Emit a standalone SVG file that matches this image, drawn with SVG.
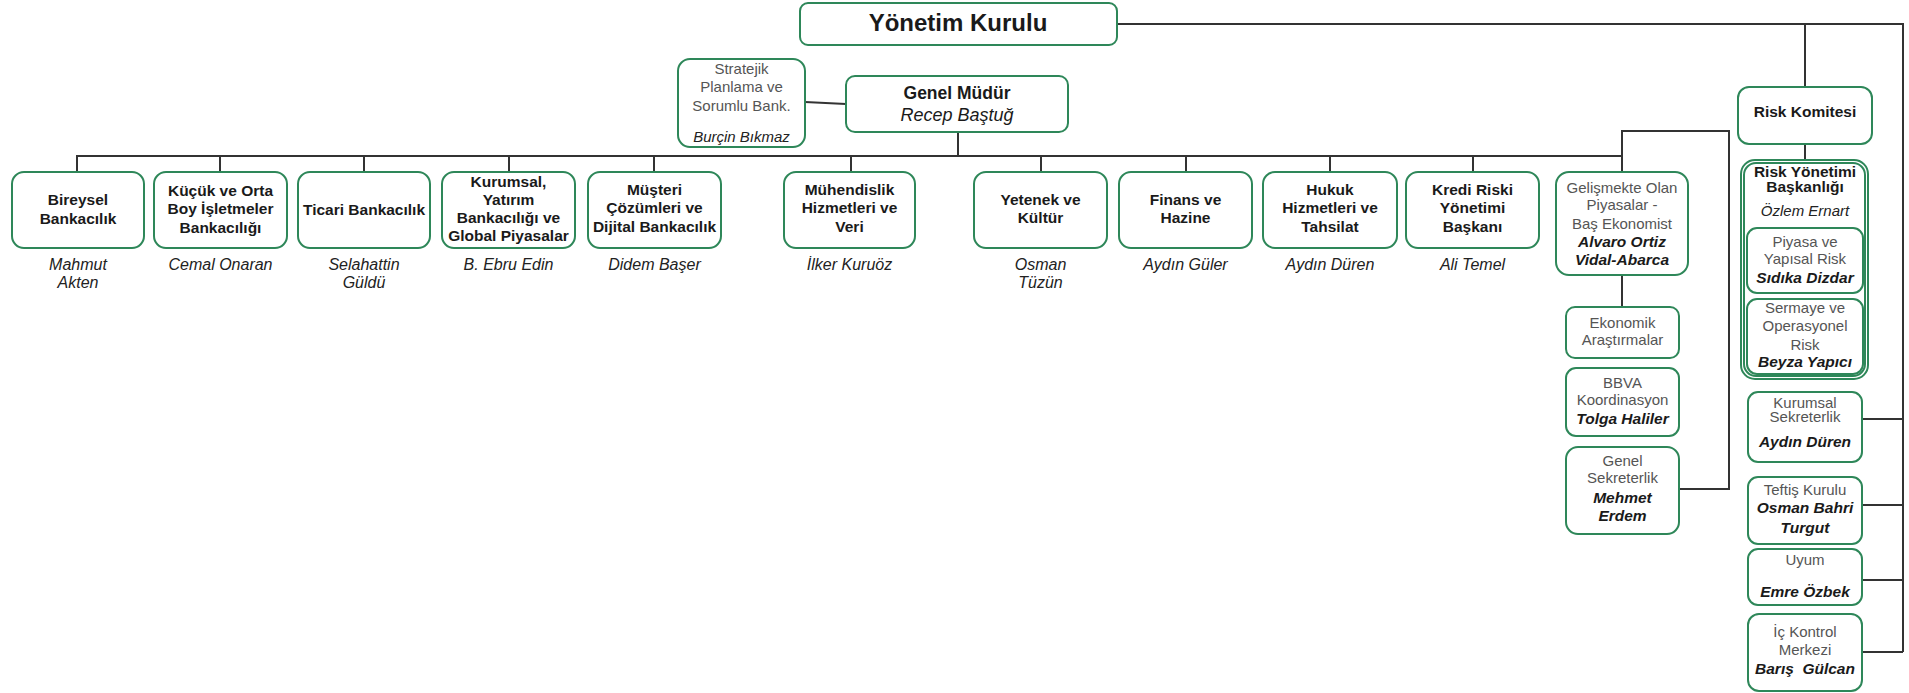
<svg xmlns="http://www.w3.org/2000/svg" width="1909" height="693" viewBox="0 0 1909 693">
<style>
.box{fill:#fff;stroke:#2e8759;stroke-width:2}
.c{stroke:#333;stroke-width:2;fill:none}
text{font-family:"Liberation Sans",Arial,sans-serif;text-anchor:middle}
.t{font-size:15.5px;font-weight:bold;fill:#1a1a1a}
.g{font-size:15px;fill:#555}
.n{font-size:16px;font-style:italic;fill:#222}
.bi{font-size:15.5px;font-style:italic;font-weight:bold;fill:#1a1a1a}
</style>
<rect width="1909" height="693" fill="#fff"/>
<g id="connectors">
<path class="c" d="M1117,24 H1903 V652"/>
<path class="c" d="M1805,24 V87"/>
<path class="c" d="M1805,144 V160"/>
<path class="c" d="M805,102 L846,104"/>
<path class="c" d="M958,132 V156"/>
<path class="c" d="M77,172 V156 H1622"/>
<path class="c" d="M220,156 V172 M364,156 V172 M509,156 V172 M654,156 V172 M851,156 V172 M1041,156 V172 M1186,156 V172 M1330,156 V172 M1473,156 V172"/>
<path class="c" d="M1622,172 V131 H1729 V489 H1679"/>
<path class="c" d="M1622,275 V307"/>
<path class="c" d="M1862,419 H1903 M1862,505 H1903 M1862,580 H1903 M1862,652 H1903"/>
</g>
<g id="yonetim-kurulu">
<rect class="box" x="800" y="3" width="317" height="42" rx="8"/>
<text x="958" y="31" style="font-size:24px;font-weight:bold;fill:#1a1a1a">Yönetim Kurulu</text>
</g>
<g id="genel-mudur">
<rect class="box" x="846" y="76" width="222" height="56" rx="9"/>
<text x="957" y="99" style="font-size:17.5px;font-weight:bold;fill:#1a1a1a">Genel Müdür</text>
<text x="957" y="121" style="font-size:18px;font-style:italic;fill:#1a1a1a">Recep Baştuğ</text>
</g>
<g id="stratejik">
<rect class="box" x="678" y="59" width="127" height="88" rx="12"/>
<text class="g" x="741.5" y="74">Stratejik</text>
<text class="g" x="741.5" y="92">Planlama ve</text>
<text class="g" x="741.5" y="111">Sorumlu Bank.</text>
<text class="n" x="741.5" y="142" style="font-size:15px">Burçin Bıkmaz</text>
</g>
<g id="bireysel">
<rect class="box" x="12" y="172" width="132" height="76" rx="12"/>
<text class="t" x="78" y="205">Bireysel</text>
<text class="t" x="78" y="224">Bankacılık</text>
<text class="n" x="78" y="270">Mahmut</text>
<text class="n" x="78" y="288">Akten</text>
</g>
<g id="kobi">
<rect class="box" x="154" y="172" width="133" height="76" rx="12"/>
<text class="t" x="220.5" y="196">Küçük ve Orta</text>
<text class="t" x="220.5" y="214">Boy İşletmeler</text>
<text class="t" x="220.5" y="233">Bankacılığı</text>
<text class="n" x="220.5" y="270">Cemal Onaran</text>
</g>
<g id="ticari">
<rect class="box" x="298" y="172" width="132" height="76" rx="12"/>
<text class="t" x="364" y="215">Ticari Bankacılık</text>
<text class="n" x="364" y="270">Selahattin</text>
<text class="n" x="364" y="288">Güldü</text>
</g>
<g id="kurumsal-yatirim">
<rect class="box" x="442" y="172" width="133" height="76" rx="12"/>
<text class="t" x="508.5" y="187">Kurumsal,</text>
<text class="t" x="508.5" y="205">Yatırım</text>
<text class="t" x="508.5" y="223">Bankacılığı ve</text>
<text class="t" x="508.5" y="241">Global Piyasalar</text>
<text class="n" x="508.5" y="270">B. Ebru Edin</text>
</g>
<g id="musteri">
<rect class="box" x="588" y="172" width="133" height="76" rx="12"/>
<text class="t" x="654.5" y="195">Müşteri</text>
<text class="t" x="654.5" y="213">Çözümleri ve</text>
<text class="t" x="654.5" y="232">Dijital Bankacılık</text>
<text class="n" x="654.5" y="270">Didem Başer</text>
</g>
<g id="muhendislik">
<rect class="box" x="784" y="172" width="131" height="76" rx="12"/>
<text class="t" x="849.5" y="195">Mühendislik</text>
<text class="t" x="849.5" y="213">Hizmetleri ve</text>
<text class="t" x="849.5" y="232">Veri</text>
<text class="n" x="849.5" y="270">İlker Kuruöz</text>
</g>
<g id="yetenek">
<rect class="box" x="974" y="172" width="133" height="76" rx="12"/>
<text class="t" x="1040.5" y="205">Yetenek ve</text>
<text class="t" x="1040.5" y="223">Kültür</text>
<text class="n" x="1040.5" y="270">Osman</text>
<text class="n" x="1040.5" y="288">Tüzün</text>
</g>
<g id="finans">
<rect class="box" x="1119" y="172" width="133" height="76" rx="12"/>
<text class="t" x="1185.5" y="205">Finans ve</text>
<text class="t" x="1185.5" y="223">Hazine</text>
<text class="n" x="1185.5" y="270">Aydın Güler</text>
</g>
<g id="hukuk">
<rect class="box" x="1263" y="172" width="134" height="76" rx="12"/>
<text class="t" x="1330" y="195">Hukuk</text>
<text class="t" x="1330" y="213">Hizmetleri ve</text>
<text class="t" x="1330" y="232">Tahsilat</text>
<text class="n" x="1330" y="270">Aydın Düren</text>
</g>
<g id="kredi-riski">
<rect class="box" x="1406" y="172" width="133" height="76" rx="12"/>
<text class="t" x="1472.5" y="195">Kredi Riski</text>
<text class="t" x="1472.5" y="213">Yönetimi</text>
<text class="t" x="1472.5" y="232">Başkanı</text>
<text class="n" x="1472.5" y="270">Ali Temel</text>
</g>
<g id="gelismekte">
<rect class="box" x="1556" y="172" width="132" height="103" rx="13"/>
<text class="g" x="1622" y="193">Gelişmekte Olan</text>
<text class="g" x="1622" y="210">Piyasalar -</text>
<text class="g" x="1622" y="229">Baş Ekonomist</text>
<text class="bi" x="1622" y="247">Alvaro Ortiz</text>
<text class="bi" x="1622" y="265">Vidal-Abarca</text>
</g>
<g id="ekonomik">
<rect class="box" x="1566" y="307" width="113" height="51" rx="9"/>
<text class="g" x="1622.5" y="328">Ekonomik</text>
<text class="g" x="1622.5" y="345">Araştırmalar</text>
</g>
<g id="bbva">
<rect class="box" x="1566" y="368" width="113" height="68" rx="10"/>
<text class="g" x="1622.5" y="388">BBVA</text>
<text class="g" x="1622.5" y="405">Koordinasyon</text>
<text class="bi" x="1622.5" y="424">Tolga Haliler</text>
</g>
<g id="genel-sekreterlik">
<rect class="box" x="1566" y="447" width="113" height="87" rx="12"/>
<text class="g" x="1622.5" y="466">Genel</text>
<text class="g" x="1622.5" y="483">Sekreterlik</text>
<text class="bi" x="1622.5" y="503">Mehmet</text>
<text class="bi" x="1622.5" y="521">Erdem</text>
</g>
<g id="risk-komitesi">
<rect class="box" x="1738" y="87" width="134" height="57" rx="11"/>
<text class="t" x="1805" y="117">Risk Komitesi</text>
</g>
<g id="risk-yonetimi">
<rect class="box" x="1741" y="160" width="127" height="219" rx="14"/>
<rect class="box" x="1744" y="163" width="121" height="213" rx="12" fill="none"/>
<text class="t" x="1805" y="177">Risk Yönetimi</text>
<text class="t" x="1805" y="192">Başkanlığı</text>
<text class="n" x="1805" y="216" style="font-size:15px">Özlem Ernart</text>
</g>
<g id="piyasa-risk">
<rect class="box" x="1747" y="228" width="116" height="65" rx="10"/>
<text class="g" x="1805" y="247">Piyasa ve</text>
<text class="g" x="1805" y="264">Yapısal Risk</text>
<text class="bi" x="1805" y="283">Sıdıka Dizdar</text>
</g>
<g id="sermaye-risk">
<rect class="box" x="1747" y="299" width="116" height="75" rx="10"/>
<text class="g" x="1805" y="313">Sermaye ve</text>
<text class="g" x="1805" y="331">Operasyonel</text>
<text class="g" x="1805" y="350">Risk</text>
<text class="bi" x="1805" y="367">Beyza Yapıcı</text>
</g>
<g id="kurumsal-sekreterlik">
<rect class="box" x="1748" y="392" width="114" height="70" rx="10"/>
<text class="g" x="1805" y="408">Kurumsal</text>
<text class="g" x="1805" y="422">Sekreterlik</text>
<text class="bi" x="1805" y="447">Aydın Düren</text>
</g>
<g id="teftis">
<rect class="box" x="1748" y="477" width="114" height="67" rx="10"/>
<text class="g" x="1805" y="495">Teftiş Kurulu</text>
<text class="bi" x="1805" y="513">Osman Bahri</text>
<text class="bi" x="1805" y="533">Turgut</text>
</g>
<g id="uyum">
<rect class="box" x="1748" y="549" width="114" height="56" rx="10"/>
<text class="g" x="1805" y="565">Uyum</text>
<text class="bi" x="1805" y="597">Emre Özbek</text>
</g>
<g id="ic-kontrol">
<rect class="box" x="1748" y="614" width="114" height="77" rx="11"/>
<text class="g" x="1805" y="637">İç Kontrol</text>
<text class="g" x="1805" y="655">Merkezi</text>
<text class="bi" x="1805" y="674" style="white-space:pre">Barış  Gülcan</text>
</g>
</svg>
